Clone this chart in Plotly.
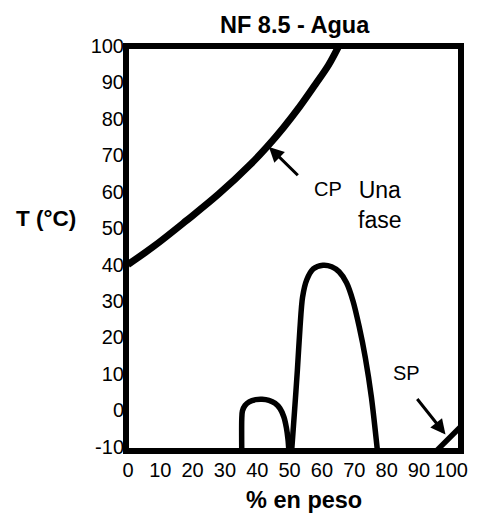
import plotly.graph_objects as go

# Cloud point curve (CP): % en peso vs T (°C)
cp_x = [0, 8, 18, 28, 38, 43, 48, 53, 58, 62, 65.5]
cp_t = [40.0, 45.0, 52.0, 59.3, 67.6, 72.3, 77.5, 83.2, 89.5, 94.7, 100.5]

# Small two-phase dome
dome1_x = [35.2, 35.2, 35.4, 36.2, 37.5, 39.5, 41.5, 43.6, 45.5, 47.0, 48.2, 49.0, 49.5, 49.8]
dome1_t = [-11.5, -2.5, -0.2, 1.3, 2.3, 2.9, 3.0, 2.7, 1.9, 0.5, -1.8, -4.8, -8.0, -11.5]

# Large two-phase dome
dome2_x = [50.6, 51.5, 52.4, 53.2, 54.0, 55.3, 57.3, 60.3, 63.0, 65.3, 67.6, 69.6, 71.5, 73.4, 75.3, 77.2]
dome2_t = [-11.5, -0.5, 11.0, 22.5, 31.0, 35.8, 38.8, 39.8, 39.4, 38.0, 35.0, 30.0, 23.0, 14.5, 3.5, -11.5]

# Solid point line (SP)
sp_x = [95.0, 103.5]
sp_t = [-11.5, -4.0]

x_ticks = [0, 10, 20, 30, 40, 50, 60, 70, 80, 90, 100]
y_ticks = [-10, 0, 10, 20, 30, 40, 50, 60, 70, 80, 90, 100]
y_tick_text = ["-10", "0", "10", "20", "30", "40", "50", "60", "70", "80", "90", "100"]

FONT = "Arial, Liberation Sans, sans-serif"

fig = go.Figure()
fig.add_trace(go.Scatter(x=cp_x, y=cp_t, mode="lines",
                         line=dict(color="black", width=7, shape="spline", smoothing=1.0)))
fig.add_trace(go.Scatter(x=dome1_x, y=dome1_t, mode="lines",
                         line=dict(color="black", width=5.5, shape="spline", smoothing=0.8)))
fig.add_trace(go.Scatter(x=dome2_x, y=dome2_t, mode="lines",
                         line=dict(color="black", width=5.5, shape="spline", smoothing=0.8)))
fig.add_trace(go.Scatter(x=sp_x, y=sp_t, mode="lines",
                         line=dict(color="black", width=5.5)))

annotations = [
    dict(text="<b>NF 8.5 - Agua</b>", xref="paper", yref="paper", x=0.503, y=1.052,
         xanchor="center", yanchor="middle", showarrow=False,
         font=dict(family=FONT, size=23.5, color="black")),
    dict(text="<b>T (°C)</b>", xref="paper", yref="paper", x=-0.24, y=0.575,
         xanchor="center", yanchor="middle", showarrow=False,
         font=dict(family=FONT, size=22.5, color="black")),
    dict(text="<b>% en peso</b>", xref="paper", yref="paper", x=0.532, y=-0.121,
         xanchor="center", yanchor="middle", showarrow=False,
         font=dict(family=FONT, size=23.5, color="black")),
    dict(text="CP", x=61.8, y=60.8, xanchor="center", yanchor="middle", showarrow=False,
         font=dict(family=FONT, size=20, color="black")),
    dict(text="Una<br>fase", x=77.9, y=56.4, xanchor="center", yanchor="middle", showarrow=False,
         font=dict(family=FONT, size=23, color="black")),
    dict(text="SP", x=86.1, y=10.1, xanchor="center", yanchor="middle", showarrow=False,
         font=dict(family=FONT, size=20, color="black")),
    # arrows
    dict(text="", x=43.6, y=72.3, ax=53.0, ay=64.1, axref="x", ayref="y",
         showarrow=True, arrowhead=2, arrowsize=1, arrowwidth=3, arrowcolor="black"),
    dict(text="", x=98.2, y=-6.7, ax=89.1, ay=3.5, axref="x", ayref="y",
         showarrow=True, arrowhead=2, arrowsize=1, arrowwidth=3, arrowcolor="black"),
]

fig.update_layout(
    width=480, height=513,
    margin=dict(l=126, r=12, t=46, b=62, pad=0),
    paper_bgcolor="white", plot_bgcolor="white",
    showlegend=False,
    annotations=annotations,
    font=dict(family=FONT, size=20, color="black"),
    shapes=[dict(type="rect", xref="paper", yref="paper", x0=0, y0=0, x1=1, y1=1,
                 line=dict(color="black", width=6), layer="above")],
)
fig.update_xaxes(range=[-0.6, 103], tickvals=x_ticks, ticks="", showgrid=False,
                 zeroline=False, showline=False, tickfont=dict(size=20),
                 ticklabelstandoff=5)
fig.update_yaxes(range=[-11.2, 100], tickvals=y_ticks, ticktext=y_tick_text, ticks="",
                 showgrid=False, zeroline=False, showline=False, tickfont=dict(size=20),
                 ticklabelstandoff=1)

fig.write_html("out.html")
